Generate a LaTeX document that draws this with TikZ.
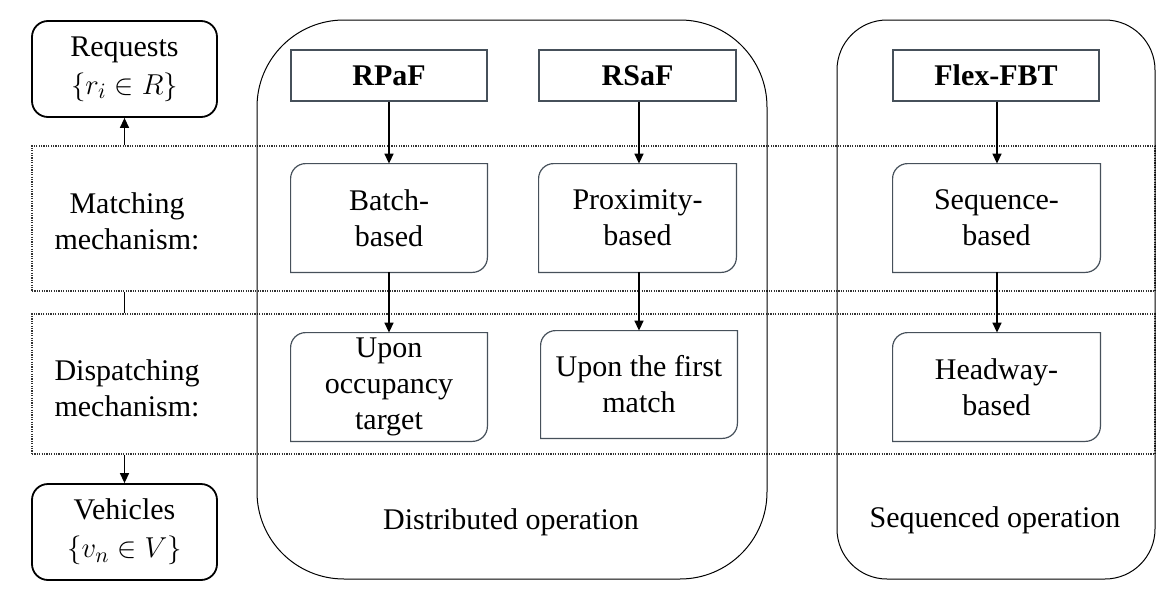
\documentclass[tikz,border=0pt]{standalone}
\usepackage{fontspec}
\setmainfont{Liberation Serif}
\usetikzlibrary{arrows.meta,calc}
\definecolor{boxgray}{RGB}{70,80,90}
\definecolor{dotgray}{RGB}{50,50,50}
\newcommand{\mydiagbox}[1]{%
  \draw[innerline] let \p1=(#1.north west), \p2=(#1.south east) in
    (\x1,\y2) -- (\x1,{\y1-7.5pt}) arc[start angle=180,end angle=90,radius=7.5pt]
    -- (\x2,\y1) -- (\x2,{\y2+7.5pt}) arc[start angle=0,end angle=-90,radius=7.5pt] -- cycle;}
\begin{document}
\begin{tikzpicture}[x=0.5pt,y=0.5pt,
  every node/.style={font=\fontsize{15}{18}\selectfont, align=center, inner sep=0pt},
  endbox/.style={draw=black, line width=0.9pt, rounded corners=8pt, minimum width=92.5pt, minimum height=48pt},
  dotbox/.style={draw=dotgray, line width=0.55pt, dash pattern=on 0.6pt off 0.6pt, minimum width=561.5pt},
  container/.style={draw=black, line width=0.5pt},
  headbox/.style={draw=boxgray, line width=0.6pt, minimum height=25.5pt, font=\fontsize{15}{18}\selectfont\bfseries},
  inbox/.style={minimum width=98pt, minimum height=54pt},
  innerline/.style={draw=boxgray, line width=0.6pt},
  conn/.style={line width=0.7pt, -{Triangle[length=5pt,width=4.5pt]}},
  plain/.style={line width=0.7pt}
]
\useasboundingbox (0,0) rectangle (1174,-594);

% dotted rows
\node[dotbox, minimum height=72.5pt] (mrow) at (593.5,-218.5) {};
\node[dotbox, minimum height=70pt] (drow) at (593.5,-384) {};

% containers
\node[container, rounded corners=43.5pt, minimum width=255pt, minimum height=279.5pt] (dist) at (512,-299.5) {};
\node[container, rounded corners=25pt, minimum width=159pt, minimum height=279.5pt] (seqc) at (996,-299.5) {};

% left column
\node[endbox] (req) at (124.5,-69) {Requests\\[1pt]$\{r_i \in R\}$};
\node[endbox] (veh) at (124.5,-532) {Vehicles\\[1pt]$\{v_n \in V\}$};
\node (mlab) at (127,-221) {Matching\\mechanism:};
\node (dlab) at (127,-388) {Dispatching\\mechanism:};

% heads
\node[headbox, minimum width=98pt] (rpaf) at (389,-75.5) {RPaF};
\node[headbox, minimum width=98.5pt] (rsaf) at (637.5,-75.5) {RSaF};
\node[headbox, minimum width=103pt] (flex) at (996,-75.5) {Flex-FBT};

% matching boxes
\node[inbox] (batch) at (389,-218) {Batch-\\based};
\node[inbox, minimum width=98.5pt] (prox) at (637.5,-218) {Proximity-\\based};
\node[inbox, minimum width=103.5pt] (seqb) at (996.5,-218) {Sequence-\\based};

% dispatching boxes
\node[inbox] (occ) at (389,-387) {Upon\\occupancy\\target};
\node[inbox, minimum height=53.5pt] (first) at (639,-384.5) {Upon the first\\match};
\node[inbox, minimum width=103.5pt] (head) at (996.5,-387) {Headway-\\based};

\mydiagbox{batch}
\mydiagbox{prox}
\mydiagbox{seqb}
\mydiagbox{occ}
\mydiagbox{first}
\mydiagbox{head}

% container labels
\node (distlab) at (511,-522) {Distributed operation};
\node (seqlab) at (995,-520) {Sequenced operation};

% connectors
\draw[conn] (req.south |- mrow.north) -- (req.south);
\draw[plain] (req.south |- mrow.south) -- (req.south |- drow.north);
\draw[conn] (veh.north |- drow.south) -- (veh.north);
\draw[conn] (rpaf.south) -- (batch.north);
\draw[conn] (batch.south) -- (occ.north);
\draw[conn] ([xshift=0.75pt]rsaf.south) -- ([xshift=0.75pt]rsaf.south |- prox.north);
\draw[conn] ([xshift=0.75pt]rsaf.south |- prox.south) -- (first.north);
\draw[conn] ([xshift=0.5pt]flex.south) -- ([xshift=0.5pt]flex.south |- seqb.north);
\draw[conn] ([xshift=0.5pt]flex.south |- seqb.south) -- ([xshift=0.5pt]flex.south |- head.north);
\end{tikzpicture}
\end{document}
